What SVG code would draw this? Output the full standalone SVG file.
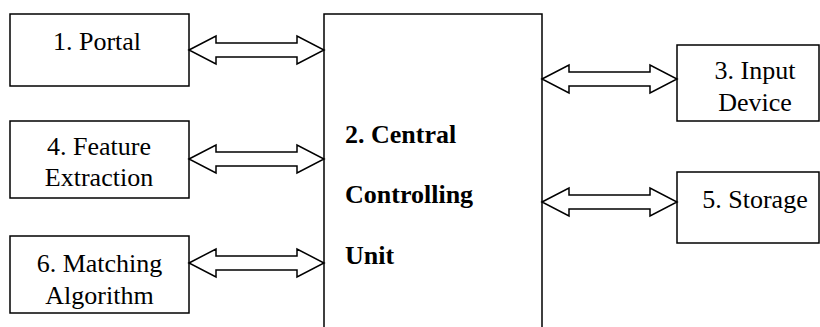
<svg xmlns="http://www.w3.org/2000/svg" width="820" height="327" viewBox="0 0 820 327">
<style>
.box{fill:#fff;stroke:#000;stroke-width:1.5}
text{font-family:'Liberation Serif','Times New Roman','DejaVu Serif',serif;font-size:26px;fill:#000}
.c{text-anchor:middle}
.b{font-weight:bold}
.arr{fill:#fff;stroke:#000;stroke-width:1.5;stroke-linejoin:miter}
</style>
<defs>
<path id="dblarrow" d="M0,0 L27,-14 L27,-7 L108,-7 L108,-14 L135,0 L108,14 L108,7 L27,7 L27,14 Z"/>
<clipPath id="clip6"><rect x="10" y="236" width="179" height="76"/></clipPath>
</defs>
<rect width="820" height="327" fill="#fff"/>
<g id="central">
<path d="M324,327 V14 H542 V327" fill="#fff" stroke="#000" stroke-width="1.5"/>
<text class="b" x="345" y="143" font-family="Liberation Serif, serif">2. Central</text>
<text class="b" x="345" y="203" font-family="Liberation Serif, serif">Controlling</text>
<text class="b" x="345" y="264" font-family="Liberation Serif, serif">Unit</text>
</g>
<g id="portal">
<rect class="box" x="10" y="14" width="179" height="72"/>
<text class="c" x="97" y="50" font-family="Liberation Serif, serif">1. Portal</text>
</g>
<g id="feature">
<rect class="box" x="10" y="121" width="179" height="77"/>
<text class="c" x="99" y="155" font-family="Liberation Serif, serif">4. Feature</text>
<text class="c" x="99" y="186" font-family="Liberation Serif, serif">Extraction</text>
</g>
<g id="matching">
<rect class="box" x="10" y="236" width="179" height="77"/>
<g clip-path="url(#clip6)">
<text class="c" x="99.5" y="272" font-family="Liberation Serif, serif">6. Matching</text>
<text class="c" x="99.5" y="304" font-family="Liberation Serif, serif">Algorithm</text>
</g>
</g>
<g id="input">
<rect class="box" x="677" y="45" width="142" height="76"/>
<text class="c" x="755" y="79" font-family="Liberation Serif, serif">3. Input</text>
<text class="c" x="755" y="111" font-family="Liberation Serif, serif">Device</text>
</g>
<g id="storage">
<rect class="box" x="677" y="172" width="142" height="71"/>
<text class="c" x="755" y="208" font-family="Liberation Serif, serif">5. Storage</text>
</g>
<g id="connectors">
<use href="#dblarrow" class="arr" transform="translate(189,50)"/>
<use href="#dblarrow" class="arr" transform="translate(189,159)"/>
<use href="#dblarrow" class="arr" transform="translate(189,263)"/>
<use href="#dblarrow" class="arr" transform="translate(542,79)"/>
<use href="#dblarrow" class="arr" transform="translate(542,202)"/>
</g>
</svg>
